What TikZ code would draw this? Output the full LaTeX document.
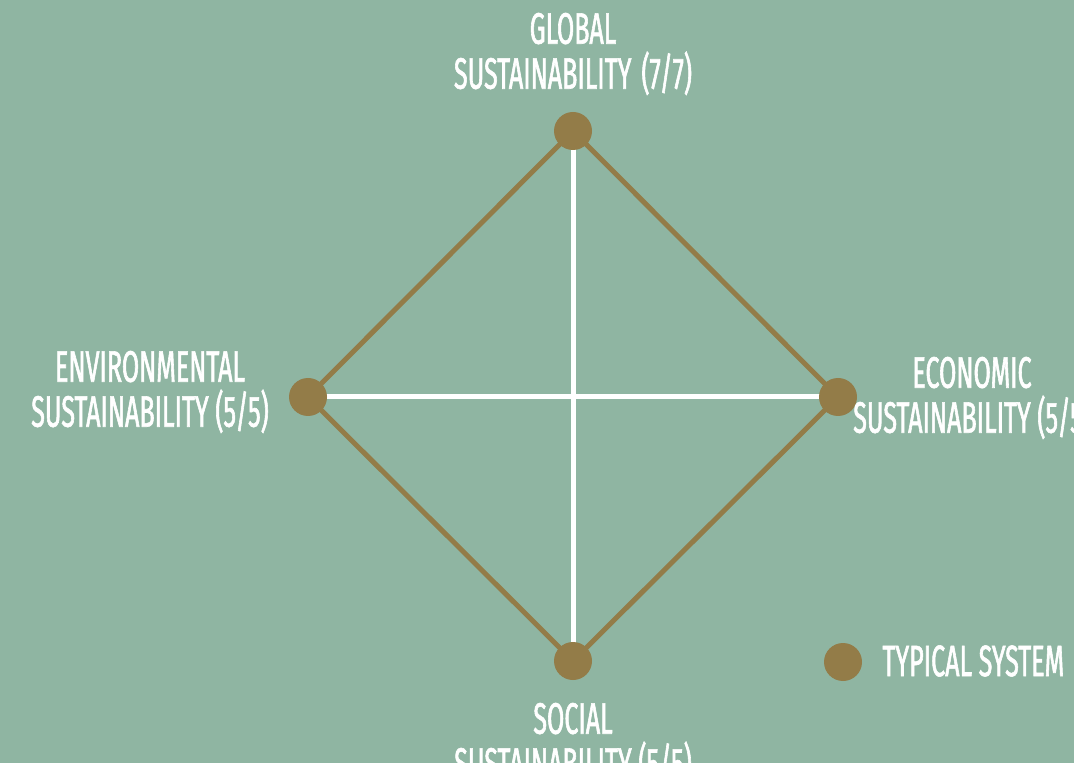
\documentclass[tikz,border=0pt]{standalone}
\usepackage{fontspec}
\setmainfont[FakeStretch=0.57,FakeBold=1.3]{Fira Sans}
\definecolor{sage}{RGB}{143,181,162}
\definecolor{bronze}{RGB}{147,124,72}
\pgfdeclarelayer{back}
\pgfdeclarelayer{lines}
\pgfsetlayers{back,lines,main}

\begin{document}
\begin{tikzpicture}[x=0.5pt,y=-0.5pt,
    dot/.style={circle,fill=bronze,inner sep=0pt,minimum size=19pt},
    lbl/.style={text=white,align=center,inner sep=0pt,
      font=\fontsize{22}{22.5}\selectfont},
    rim/.style={bronze,line width=2.5pt},
    cross/.style={white,line width=2.5pt}]
  \useasboundingbox (0,0) rectangle (1074,763);
  \begin{pgfonlayer}{back}
    \fill [sage] (0,0) rectangle (1074,763);
  \end{pgfonlayer}
  % corners of the diamond
  \node [dot] (glob) at (573,131) {};
  \node [dot] (env) at (308,397) {};
  \node [dot] (econ) at (838,397) {};
  \node [dot] (soc) at (573,661) {};
  \begin{pgfonlayer}{lines}
    \draw [rim] (glob.center) -- (econ.center) -- (soc.center) -- (env.center) -- cycle;
    \draw [cross] (glob.center) -- (soc.center) (env.center) -- (econ.center);
  \end{pgfonlayer}
  % labels
  \node [lbl] (globtxt) at (573,54) {GLOBAL\\SUSTAINABILITY\hspace{5pt}(7/7)};
  \node [lbl] (envtxt) at (150,392) {ENVIRONMENTAL\\SUSTAINABILITY (5/5)};
  \node [lbl] (econtxt) at (972,398) {ECONOMIC\\SUSTAINABILITY (5/5)};
  \node [lbl] (soctxt) at (573,744) {SOCIAL\\SUSTAINABILITY (5/5)};
  % legend
  \node [dot] (key) at (843,662) {};
  \node [lbl,anchor=west] (keytxt) at (882,661) {TYPICAL SYSTEM};
\end{tikzpicture}
\end{document}
